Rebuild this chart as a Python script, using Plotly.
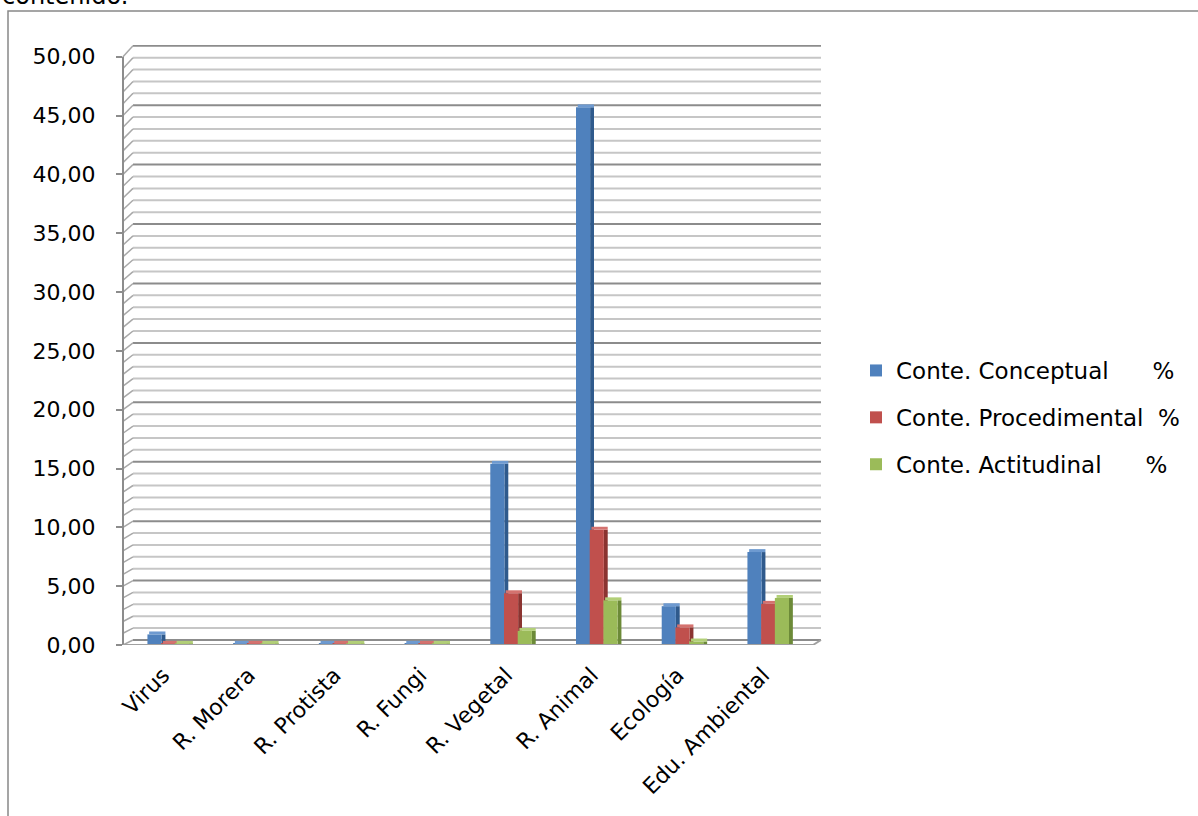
import plotly.graph_objects as go

# Categories and percentages per content type
categorias = ["Virus", "R. Morera", "R. Protista", "R. Fungi", "R. Vegetal",
              "R. Animal", "Ecología", "Edu. Ambiental"]
conceptual = [0.9, 0.1, 0.1, 0.1, 15.4, 45.7, 3.3, 7.9]
procedimental = [0.1, 0.1, 0.1, 0.1, 4.4, 9.8, 1.5, 3.5]
actitudinal = [0.1, 0.1, 0.1, 0.1, 1.2, 3.8, 0.3, 4.0]

nombres = ["Conte. Conceptual\u00a0\u00a0\u00a0\u00a0\u00a0\u00a0%",
           "Conte. Procedimental\u00a0\u00a0%",
           "Conte. Actitudinal\u00a0\u00a0\u00a0\u00a0\u00a0\u00a0%"]
colores = ["#4F81BD", "#C0504D", "#9BBB59"]
laterales = ["#2F5A8C", "#8B3431", "#6C8A38"]
superiores = ["#6E9AD0", "#D4726F", "#B2CF78"]
tick_vals = list(range(0, 51, 5))
tick_text = [f"{v:.2f}".replace(".", ",") for v in tick_vals]

FONT = "DejaVu Sans"
W, H = 1198, 816
ML, MR, MT, MB = 123, 385, 45, 171
PW, PH = W - ML - MR, H - MT - MB
YMAX = 51
CAP = 0.25  # thickness of the lighter top face of each column


def px_x(p):
    return (p - ML) / PW


def px_y(p):
    return (H - MB - p) / PH


x = list(range(len(categorias)))
fig = go.Figure()

front_w = 0.165
side_w = 0.045
offsets = [-0.265, -0.105, 0.055]
series = [conceptual, procedimental, actitudinal]

for vals, nombre, col, lat, sup, off in zip(series, nombres, colores, laterales,
                                            superiores, offsets):
    # darker right face of each column
    fig.add_trace(go.Bar(x=x, y=vals, width=side_w, offset=off + front_w,
                         marker=dict(color=lat, line=dict(width=0)),
                         showlegend=False, hoverinfo="skip"))
    # front face
    fig.add_trace(go.Bar(x=x, y=vals, width=front_w, offset=off, name=nombre,
                         legendgroup=nombre,
                         marker=dict(color=col, line=dict(width=0))))
    # lighter top face sitting on the column
    fig.add_trace(go.Bar(x=x, y=[CAP] * len(vals), base=vals, width=front_w + side_w - 0.02,
                         offset=off + 0.02,
                         marker=dict(color=sup, line=dict(width=0)),
                         showlegend=False, hoverinfo="skip"))

shapes = []
dx_back = px_x(ML + 10)
x_right = px_x(821)
# back-wall gridlines with diagonal connectors to the front axis
for v in range(0, 51):
    lift = (5 + 0.12 * v) / (PH / YMAX)
    major = v % 5 == 0
    shapes.append(dict(type="line", xref="paper", yref="y", layer="below",
                       x0=dx_back, x1=x_right, y0=v + lift, y1=v + lift,
                       line=dict(color="#8c8c8c" if major else "#c6c6c6", width=2)))
    shapes.append(dict(type="line", xref="paper", yref="y", layer="below",
                       x0=0, x1=dx_back, y0=v, y1=v + lift,
                       line=dict(color="#a8a8a8", width=1.5)))

# front axis line
shapes.append(dict(type="line", xref="paper", yref="y", x0=0, x1=0, y0=0, y1=50,
                   line=dict(color="#8c8c8c", width=2)))
# floor front edge and right corner
shapes.append(dict(type="line", xref="paper", yref="y", x0=0, x1=1, y0=0, y1=0,
                   line=dict(color="#a0a0a0", width=2)))
shapes.append(dict(type="line", xref="paper", yref="y", x0=1, x1=x_right, y0=0,
                   y1=5 / (PH / YMAX), line=dict(color="#a0a0a0", width=2)))
# outer chart frame
shapes.append(dict(type="rect", xref="paper", yref="paper",
                   x0=px_x(8), x1=px_x(W + 20), y0=px_y(11), y1=px_y(H + 20),
                   line=dict(color="#888888", width=1.5), fillcolor="rgba(0,0,0,0)"))

fig.update_layout(
    width=W, height=H,
    margin=dict(l=ML, r=MR, t=MT, b=MB),
    paper_bgcolor="white", plot_bgcolor="white",
    barmode="overlay",
    font=dict(family=FONT, color="#000000"),
    shapes=shapes,
    showlegend=True,
    legend=dict(x=px_x(856), y=px_y(349), xanchor="left", yanchor="top",
                font=dict(family=FONT, size=23, color="#000000"),
                traceorder="grouped", tracegroupgap=14,
                bgcolor="rgba(0,0,0,0)"),
    xaxis=dict(range=[-0.55, 7.5], tickmode="array", tickvals=x, ticktext=categorias,
               tickangle=-45, tickfont=dict(family=FONT, size=22, color="#000000"),
               ticklabelstandoff=12, ticklabelshift=-7,
               showgrid=False, zeroline=False, showline=False, ticks=""),
    yaxis=dict(range=[0, YMAX], tickmode="array", tickvals=tick_vals, ticktext=tick_text,
               tickfont=dict(family=FONT, size=22, color="#000000"),
               ticklabelstandoff=16,
               showgrid=False, zeroline=False, showline=False,
               ticks="outside", ticklen=6, tickcolor="#8c8c8c", tickwidth=2),
    annotations=[dict(text="contenido.", xref="paper", yref="paper",
                      x=px_x(0), y=px_y(12), xanchor="left", yanchor="bottom",
                      showarrow=False, font=dict(family=FONT, size=24, color="#000000"))],
)

fig.write_html("out.html")
